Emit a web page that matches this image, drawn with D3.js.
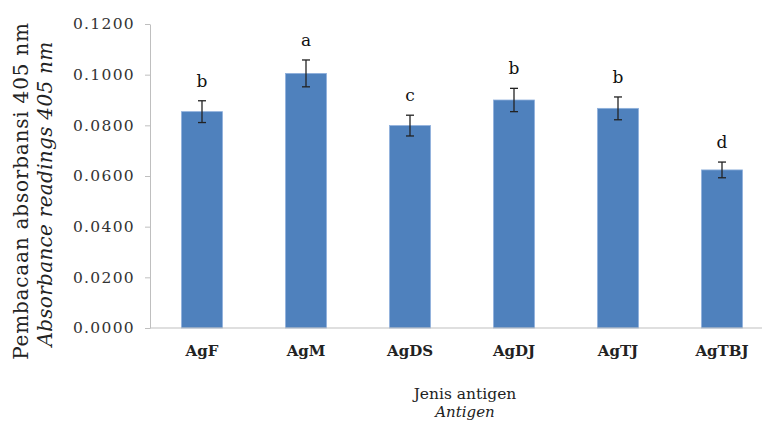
<!DOCTYPE html>
<html>
<head>
<meta charset="utf-8">
<script src="https://cdn.jsdelivr.net/npm/d3@7"></script>
<style>
  body { margin: 0; background: #fff; }
  text { font-family: "DejaVu Serif", "Liberation Serif", serif; }
</style>
</head>
<body>
<svg id="chart"></svg>
<script>
var categories = ["AgF", "AgM", "AgDS", "AgDJ", "AgTJ", "AgTBJ"];
var means = [0.0854, 0.1005, 0.0799, 0.0900, 0.0867, 0.0624];
var errors = [0.0043, 0.0053, 0.0041, 0.0046, 0.0045, 0.0031];
var letters = ["b", "a", "c", "b", "b", "d"];
var yTicks = [0, 0.02, 0.04, 0.06, 0.08, 0.10, 0.12];

let width = 762;
let height = 421;

let svg = d3.select("#chart")
  .attr("width", width)
  .attr("height", height);

let x = d3.scaleBand()
  .domain(categories)
  .range([150, 774])
  .paddingInner(0.606)
  .paddingOuter(0.303);

let y = d3.scaleLinear()
  .domain([0, 0.12])
  .range([328, 24]);

let rows = categories.map((c, i) => ({ name: c, v: means[i], e: errors[i], l: letters[i] }));

// y axis
let yAxis = svg.append("g")
  .attr("transform", "translate(150,0)")
  .call(d3.axisLeft(y).tickValues(yTicks).tickFormat(d3.format(".4f")).tickSize(5).tickSizeOuter(0).tickPadding(10));
yAxis.select(".domain").attr("stroke", "#bfbfbf");
yAxis.selectAll(".tick line").attr("stroke", "#bfbfbf");
yAxis.selectAll(".tick text")
  .attr("fill", "#333")
  .style("font-size", "15.5px")
  .style("letter-spacing", "1.3px")
  .style("font-family", "'DejaVu Serif', serif");

// bars
svg.selectAll("rect.bar")
  .data(rows)
  .enter()
  .append("rect")
  .attr("class", "bar")
  .attr("x", d => x(d.name))
  .attr("y", d => y(d.v))
  .attr("width", x.bandwidth())
  .attr("height", d => y(0) - y(d.v))
  .attr("fill", "#4f81bd")
  .attr("stroke", "#8fb0dc")
  .attr("stroke-width", 0.8);

// x axis line
svg.append("line")
  .attr("x1", 150).attr("x2", width)
  .attr("y1", y(0)).attr("y2", y(0))
  .attr("stroke", "#bfbfbf");

// error bars
let eb = svg.selectAll("g.err")
  .data(rows)
  .enter()
  .append("g")
  .attr("class", "err")
  .attr("stroke", "#222")
  .attr("stroke-width", 1.3);
eb.append("line")
  .attr("x1", d => x(d.name) + x.bandwidth() / 2)
  .attr("x2", d => x(d.name) + x.bandwidth() / 2)
  .attr("y1", d => y(d.v + d.e))
  .attr("y2", d => y(d.v - d.e));
eb.append("line")
  .attr("x1", d => x(d.name) + x.bandwidth() / 2 - 4)
  .attr("x2", d => x(d.name) + x.bandwidth() / 2 + 4)
  .attr("y1", d => y(d.v + d.e))
  .attr("y2", d => y(d.v + d.e));
eb.append("line")
  .attr("x1", d => x(d.name) + x.bandwidth() / 2 - 4)
  .attr("x2", d => x(d.name) + x.bandwidth() / 2 + 4)
  .attr("y1", d => y(d.v - d.e))
  .attr("y2", d => y(d.v - d.e));

// significance letters
svg.selectAll("text.sig")
  .data(rows)
  .enter()
  .append("text")
  .attr("class", "sig")
  .attr("x", d => x(d.name) + x.bandwidth() / 2)
  .attr("y", d => y(d.v + d.e) - 14)
  .attr("text-anchor", "middle")
  .style("font-size", "17px")
  .attr("fill", "#111")
  .text(d => d.l);

// category labels
svg.selectAll("text.cat")
  .data(rows)
  .enter()
  .append("text")
  .attr("class", "cat")
  .attr("x", d => x(d.name) + x.bandwidth() / 2)
  .attr("y", 356)
  .attr("text-anchor", "middle")
  .style("font-size", "15px")
  .style("font-weight", "bold")
  .attr("fill", "#222")
  .text(d => d.name);

// axis titles
svg.append("text")
  .attr("x", 465).attr("y", 399)
  .attr("text-anchor", "middle")
  .style("font-size", "15.5px")
  .attr("fill", "#222")
  .text("Jenis antigen");
svg.append("text")
  .attr("x", 465).attr("y", 417)
  .attr("text-anchor", "middle")
  .style("font-size", "15px")
  .style("font-style", "italic")
  .attr("fill", "#222")
  .text("Antigen");

svg.append("text")
  .attr("transform", "translate(28,191) rotate(-90)")
  .attr("text-anchor", "middle")
  .style("font-size", "20px")
  .style("letter-spacing", "0.8px")
  .attr("fill", "#222")
  .text("Pembacaan absorbansi 405 nm");
svg.append("text")
  .attr("transform", "translate(52,194) rotate(-90)")
  .attr("text-anchor", "middle")
  .style("font-size", "20px")
  .style("letter-spacing", "0.3px")
  .style("font-style", "italic")
  .attr("fill", "#222")
  .text("Absorbance readings 405 nm");
</script>
</body>
</html>
